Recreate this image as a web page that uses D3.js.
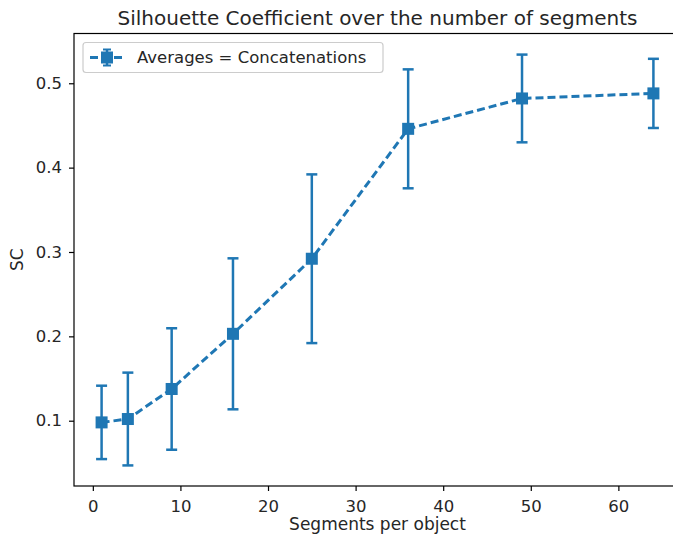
<!DOCTYPE html>
<html><head><meta charset="utf-8">
<script src="https://cdn.jsdelivr.net/npm/d3@7"></script>
<style>
body{margin:0;background:#fff;}
text{font-family:"DejaVu Sans",sans-serif;fill:#262626;}
</style></head>
<body>
<svg id="c" width="673" height="535"></svg>
<script>
const segments = [1, 4, 9, 16, 25, 36, 49, 64];
const scValues = [0.098, 0.102, 0.1376, 0.203, 0.292, 0.446, 0.482, 0.488];
const scErrors = [0.0435, 0.055, 0.072, 0.0895, 0.100, 0.0705, 0.052, 0.041];
const xTicks = [0, 10, 20, 30, 40, 50, 60];
const yTicks = [0.1, 0.2, 0.3, 0.4, 0.5];
const seriesLabel = "Averages = Concatenations";
const titleText = "Silhouette Coefficient over the number of segments";
const xLabel = "Segments per object";
const yLabel = "SC";

const color = "#1f77b4";
const svg = d3.select("#c");
const L = 74, R = 681, T = 33.5, B = 486;
const x = d3.scaleLinear().domain([-2.15, 67.15]).range([L, R]);
const y = d3.scaleLinear().domain([0.0226, 0.559]).range([B, T]);

// axes
const xAxis = d3.axisBottom(x).tickValues(xTicks).tickSize(5).tickPadding(9).tickFormat(d3.format("d"));
const yAxis = d3.axisLeft(y).tickValues(yTicks).tickSize(5).tickPadding(7).tickFormat(d3.format(".1f"));
const gx = svg.append("g").attr("transform", `translate(0,${B})`).call(xAxis);
const gy = svg.append("g").attr("transform", `translate(${L},0)`).call(yAxis);
[gx, gy].forEach(g => {
  g.select(".domain").remove();
  g.selectAll(".tick line").attr("stroke", "#000").attr("stroke-width", 1.2);
  g.selectAll(".tick text").attr("font-size", 16.5).attr("fill", "#262626").style("font-family", "DejaVu Sans");
});
// spines
svg.append("rect").attr("x", L).attr("y", T).attr("width", R - L).attr("height", B - T)
  .attr("fill", "none").attr("stroke", "#000").attr("stroke-width", 1.2);

// error bars
const eb = svg.append("g");
segments.forEach((s, i) => {
  const cx = x(s), y0 = y(scValues[i] - scErrors[i]), y1 = y(scValues[i] + scErrors[i]);
  eb.append("line").attr("x1", cx).attr("x2", cx).attr("y1", y0).attr("y2", y1)
    .attr("stroke", color).attr("stroke-width", 2.5);
  [y0, y1].forEach(yy => eb.append("line").attr("x1", cx - 5.5).attr("x2", cx + 5.5)
    .attr("y1", yy).attr("y2", yy).attr("stroke", color).attr("stroke-width", 2.5));
});

// dashed line
const line = d3.line().x((d, i) => x(segments[i])).y(d => y(d));
svg.append("path").datum(scValues).attr("d", line).attr("fill", "none")
  .attr("stroke", color).attr("stroke-width", 3).attr("stroke-dasharray", "8,4");

// markers
svg.append("g").selectAll("rect").data(scValues).join("rect")
  .attr("x", (d, i) => x(segments[i]) - 6).attr("y", d => y(d) - 6)
  .attr("width", 12).attr("height", 12).attr("fill", color);

// title & labels
svg.append("text").attr("x", (L + R) / 2).attr("y", 25).attr("text-anchor", "middle")
  .attr("font-size", 20).text(titleText);
svg.append("text").attr("x", (L + R) / 2).attr("y", 530).attr("text-anchor", "middle")
  .attr("font-size", 17).text(xLabel);
svg.append("text").attr("transform", `translate(23,${(T + B) / 2}) rotate(-90)`)
  .attr("text-anchor", "middle").attr("font-size", 17).text(yLabel);

// legend
const lg = svg.append("g");
lg.append("rect").attr("x", 83).attr("y", 42.5).attr("width", 300).attr("height", 30)
  .attr("rx", 3).attr("fill", "#fff").attr("fill-opacity", 0.8).attr("stroke", "#ccc").attr("stroke-width", 1.2);
const ly = 57.5;
lg.append("line").attr("x1", 90).attr("x2", 124).attr("y1", ly).attr("y2", ly)
  .attr("stroke", color).attr("stroke-width", 3).attr("stroke-dasharray", "8,4");
lg.append("line").attr("x1", 107).attr("x2", 107).attr("y1", ly - 8).attr("y2", ly + 8)
  .attr("stroke", color).attr("stroke-width", 2.5);
[ly - 8, ly + 8].forEach(yy => lg.append("line").attr("x1", 103).attr("x2", 111)
  .attr("y1", yy).attr("y2", yy).attr("stroke", color).attr("stroke-width", 2));
lg.append("rect").attr("x", 101).attr("y", ly - 6).attr("width", 12).attr("height", 12).attr("fill", color);
lg.append("text").attr("x", 137).attr("y", 63).attr("font-size", 16.5).text(seriesLabel);
</script>
</body></html>
